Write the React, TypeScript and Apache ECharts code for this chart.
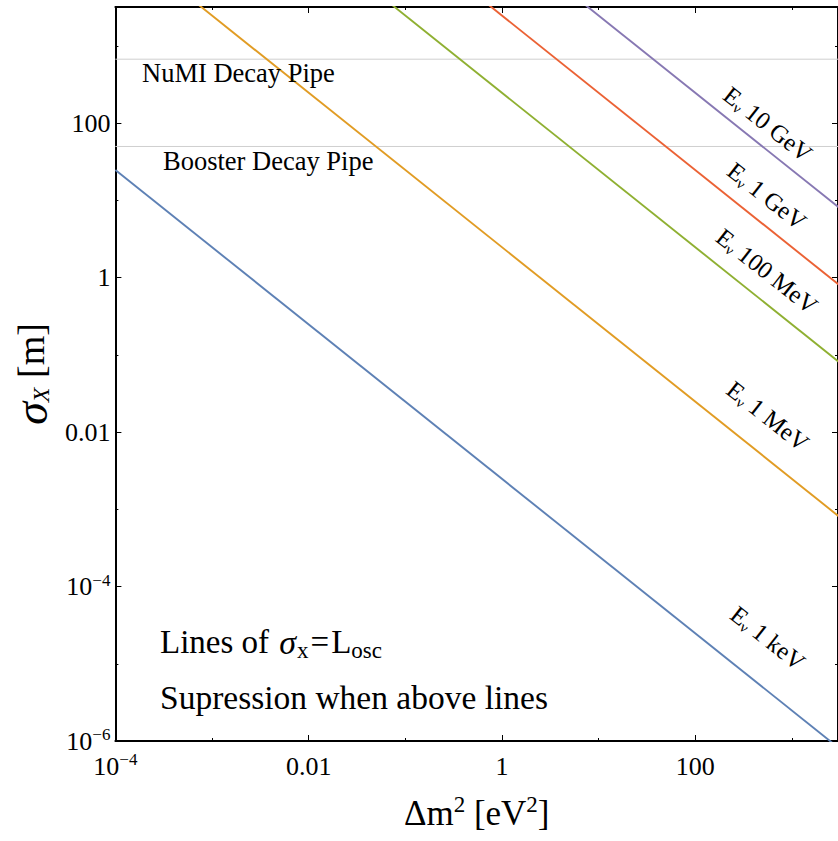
import React, { useEffect, useRef } from 'react';
import * as echarts from 'echarts';

const FONT = '"Liberation Serif", "Times New Roman", serif';

// Δm² end points of each curve and σ_x = L_osc
const dm2Ends = [1e-4, 1e4];
const energyLabels = ['1 keV', '1 MeV', '100 MeV', '1 GeV', '10 GeV'];
const sigmaAtDm2Min = [24.8, 2.48e4, 2.48e6, 2.48e7, 2.48e8];
const sigmaAtDm2Max = [2.48e-7, 2.48e-4, 2.48e-2, 2.48e-1, 2.48];
const lineColors = ['#5E81B5', '#E19C24', '#8FB032', '#EB6235', '#8778B3'];

const pipeNames = ['NuMI Decay Pipe', 'Booster Decay Pipe'];
const pipeLengths = [675, 50];

const xMajorTicks = [1e-4, 1e-2, 1, 1e2];
const xMajorLabels = ['10{sup|−4}', '0.01', '1', '100'];
const xMinorTicks = [1e-3, 1e-1, 10, 1e3];
const yMajorTicks = [1e-6, 1e-4, 1e-2, 1, 1e2];
const yMajorLabels = ['10{sup|−6}', '10{sup|−4}', '0.01', '1', '100'];
const yMinorTicks = [1e-5, 1e-3, 1e-1, 10, 1e3];

const X_MIN = 1e-4;
const X_MAX = 3000;
const Y_MIN = 1e-6;
const Y_MAX = 3200;

// annotation placement (pixels)
const lineLabelCenters: [number, number][] = [
  [768, 638],
  [768, 416],
  [767, 271],
  [767, 196],
  [768, 124],
];
const pipeLabelPos: [number, number][] = [
  [142, 82],
  [163, 170],
];

const makeFmt = (vals: number[], labels: string[]) => {
  const m = new Map<number, string>();
  vals.forEach((v, i) => m.set(Math.round(Math.log10(v)), labels[i]));
  return (v: number) => {
    const e = Math.log10(v);
    if (Math.abs(e - Math.round(e)) > 1e-6) return '';
    return m.get(Math.round(e)) ?? '';
  };
};

const supRich = {
  sup: { fontSize: 17, fontFamily: FONT, color: '#000', verticalAlign: 'top', lineHeight: 16 },
};

export default function App() {
  const ref = useRef<HTMLDivElement>(null);
  useEffect(() => {
    if (!ref.current) return;
    const chart = echarts.init(ref.current, undefined, { renderer: 'svg' });
    const lineStyle = { color: '#000', width: 2 };
    const tickStyle = { color: '#000', width: 1 };
    const base = (min: number, max: number) => ({
      type: 'log' as const,
      logBase: 10,
      min,
      max,
      splitLine: { show: false },
      minorTick: { show: false },
    });
    const xAxis = [
      {
        ...base(X_MIN, X_MAX),
        position: 'bottom',
        axisLine: { show: true, onZero: false, lineStyle },
        axisTick: { show: true, inside: true, length: 6, customValues: xMajorTicks, lineStyle: tickStyle },
        axisLabel: {
          show: true,
          customValues: xMajorTicks,
          formatter: makeFmt(xMajorTicks, xMajorLabels),
          margin: 10,
          color: '#000',
          fontFamily: FONT,
          fontSize: 26,
          lineHeight: 30,
          rich: supRich,
        },
        name: 'Δm{sup|2} [eV{sup|2}]',
        nameLocation: 'middle',
        nameGap: 52,
        nameTextStyle: {
          fontFamily: FONT,
          fontSize: 35,
          color: '#000',
          lineHeight: 40,
          rich: { sup: { fontSize: 23, fontFamily: FONT, color: '#000', verticalAlign: 'top', lineHeight: 22 } },
        },
      },
      {
        ...base(X_MIN, X_MAX),
        position: 'top',
        axisLine: { show: true, onZero: false, lineStyle },
        axisTick: { show: true, inside: true, length: 6, customValues: xMajorTicks, lineStyle: tickStyle },
        axisLabel: { show: false },
      },
      {
        ...base(X_MIN, X_MAX),
        position: 'bottom',
        axisLine: { show: false, onZero: false },
        axisTick: { show: true, inside: true, length: 3, customValues: xMinorTicks, lineStyle: tickStyle },
        axisLabel: { show: false },
      },
      {
        ...base(X_MIN, X_MAX),
        position: 'top',
        axisLine: { show: false, onZero: false },
        axisTick: { show: true, inside: true, length: 3, customValues: xMinorTicks, lineStyle: tickStyle },
        axisLabel: { show: false },
      },
    ];
    const yAxis = [
      {
        ...base(Y_MIN, Y_MAX),
        position: 'left',
        axisLine: { show: true, onZero: false, lineStyle },
        axisTick: { show: true, inside: true, length: 6, customValues: yMajorTicks, lineStyle: tickStyle },
        axisLabel: {
          show: true,
          customValues: yMajorTicks,
          formatter: makeFmt(yMajorTicks, yMajorLabels),
          margin: 5,
          color: '#000',
          fontFamily: FONT,
          fontSize: 26,
          lineHeight: 30,
          rich: supRich,
        },
        name: '{s|σ}{sub|X} [m]',
        nameLocation: 'middle',
        nameGap: 56,
        nameRotate: 90,
        nameTextStyle: {
          fontFamily: FONT,
          fontSize: 38,
          color: '#000',
          lineHeight: 44,
          rich: {
            s: { fontSize: 46, fontFamily: FONT, fontStyle: 'italic', color: '#000', lineHeight: 44 },
            sub: { fontSize: 24, fontFamily: FONT, fontStyle: 'italic', color: '#000', verticalAlign: 'bottom', lineHeight: 24 },
          },
        },
      },
      {
        ...base(Y_MIN, Y_MAX),
        position: 'right',
        axisLine: { show: true, onZero: false, lineStyle },
        axisTick: { show: true, inside: true, length: 6, customValues: yMajorTicks, lineStyle: tickStyle },
        axisLabel: { show: false },
      },
      {
        ...base(Y_MIN, Y_MAX),
        position: 'left',
        axisLine: { show: false, onZero: false },
        axisTick: { show: true, inside: true, length: 3, customValues: yMinorTicks, lineStyle: tickStyle },
        axisLabel: { show: false },
      },
      {
        ...base(Y_MIN, Y_MAX),
        position: 'right',
        axisLine: { show: false, onZero: false },
        axisTick: { show: true, inside: true, length: 3, customValues: yMinorTicks, lineStyle: tickStyle },
        axisLabel: { show: false },
      },
    ];

    const series: any[] = [];
    pipeLengths.forEach((len, i) => {
      series.push({
        type: 'line',
        name: pipeNames[i],
        data: [
          [X_MIN, len],
          [X_MAX, len],
        ],
        showSymbol: false,
        symbol: 'none',
        silent: true,
        lineStyle: { color: '#cfcfcf', width: 1 },
        z: 2,
      });
    });
    energyLabels.forEach((e, i) => {
      series.push({
        type: 'line',
        name: e,
        data: [
          [dm2Ends[0], sigmaAtDm2Min[i]],
          [dm2Ends[1], sigmaAtDm2Max[i]],
        ],
        showSymbol: false,
        symbol: 'none',
        silent: true,
        clip: true,
        lineStyle: { color: lineColors[i], width: 1.9 },
        itemStyle: { color: lineColors[i] },
        z: 3,
      });
    });

    const graphic: any[] = [];
    pipeNames.forEach((n, i) => {
      graphic.push({
        type: 'text',
        x: pipeLabelPos[i][0],
        y: pipeLabelPos[i][1] - 0.34 * 26,
        z: 10,
        style: { text: n, fontFamily: FONT, fontSize: 26.5, fill: '#000', align: 'left', verticalAlign: 'middle' },
      });
    });
    graphic.push({
      type: 'text',
      x: 160,
      y: 642,
      z: 10,
      style: {
        text: 'Lines of {i|σ}{sub|x}={L|L}{sub|osc}',
        fontFamily: FONT,
        fontSize: 33,
        lineHeight: 40,
        fill: '#000',
        align: 'left',
        verticalAlign: 'middle',
        rich: {
          i: { fontFamily: FONT, fontSize: 34, fontStyle: 'italic', fill: '#000', lineHeight: 40, padding: [0, 1, 0, 2] },
          L: { fontFamily: FONT, fontSize: 33, fill: '#000', lineHeight: 40, padding: [0, 0, 0, 2] },
          sub: { fontFamily: FONT, fontSize: 23, fill: '#000', verticalAlign: 'bottom', lineHeight: 20, padding: [0, 2, 0, 0] },
        },
      },
    });
    graphic.push({
      type: 'text',
      x: 160,
      y: 697,
      z: 10,
      style: {
        text: 'Supression when above lines',
        fontFamily: FONT,
        fontSize: 33.5,
        fill: '#000',
        align: 'left',
        verticalAlign: 'middle',
      },
    });
    energyLabels.forEach((e, i) => {
      graphic.push({
        type: 'text',
        x: lineLabelCenters[i][0],
        y: lineLabelCenters[i][1],
        rotation: -0.668,
        z: 10,
        style: {
          text: 'E{sub|ν} ' + e,
          fontFamily: FONT,
          fontSize: 24.5,
          lineHeight: 28,
          fill: '#000',
          align: 'center',
          verticalAlign: 'middle',
          rich: {
            sub: { fontFamily: FONT, fontSize: 15, fill: '#000', verticalAlign: 'bottom', lineHeight: 14 },
          },
        },
      });
    });

    chart.setOption({
      animation: false,
      backgroundColor: '#fff',
      grid: { left: 109, top: 7, right: -3, bottom: 100, containLabel: false },
      xAxis,
      yAxis,
      series,
      graphic,
    } as any);
    return () => chart.dispose();
  }, []);
  return (
    <div
      ref={ref}
      style={{ position: 'fixed', left: 0, top: 0, width: 838, height: 841, background: '#fff' }}
    />
  );
}
